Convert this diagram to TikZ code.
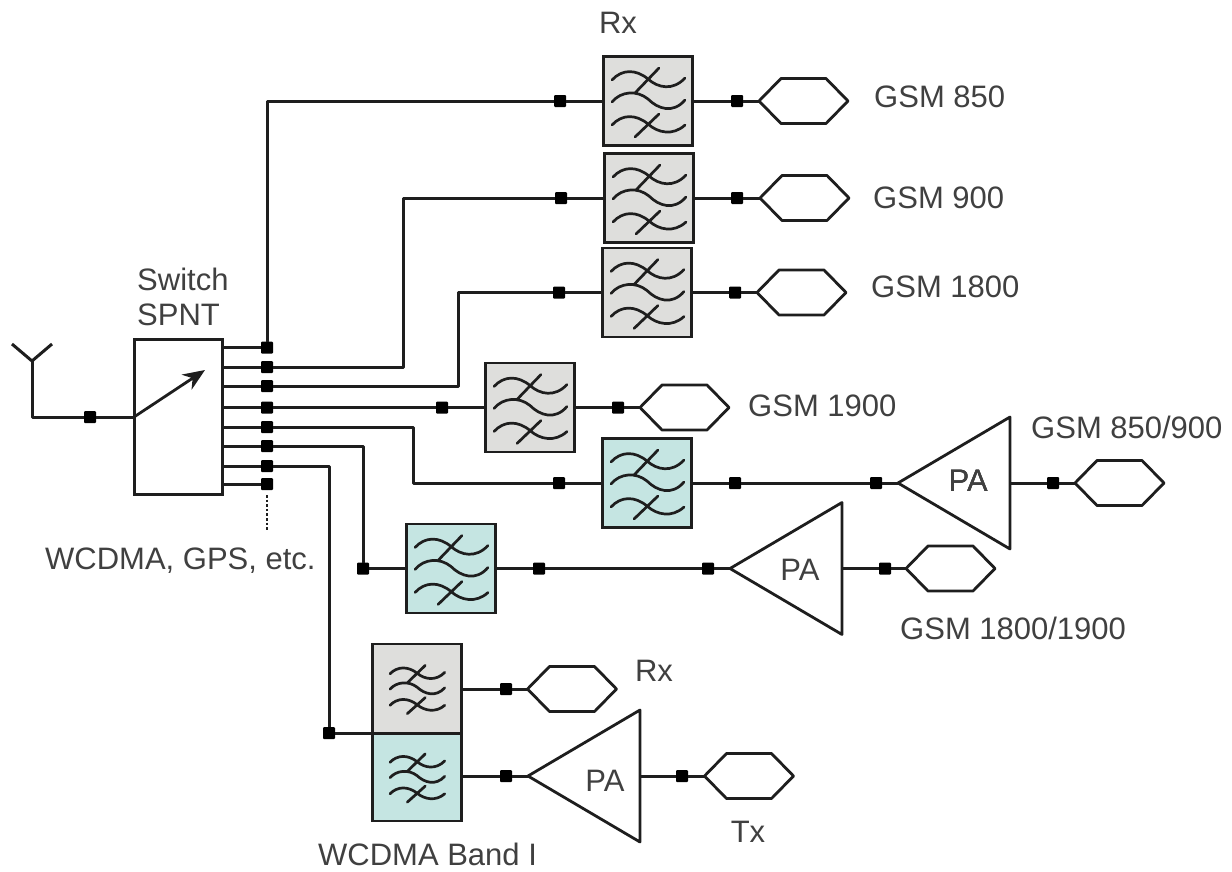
\documentclass[tikz,border=0pt]{standalone}
\usepackage{fontspec}
\setmainfont{Liberation Sans}
\usetikzlibrary{calc,arrows.meta}
\definecolor{ink}{HTML}{1E1E1E}
\definecolor{txt}{HTML}{404040}
\definecolor{greyf}{HTML}{DEDEDC}
\definecolor{tealf}{HTML}{C5E5E2}
\tikzset{
  x=1pt,y=-1pt,
  wire/.style={draw=ink,line width=3pt,line join=round},
  dotn/.style={draw=none,fill=black,minimum size=12pt,inner sep=0pt,outer sep=0pt,rounded corners=1pt},
  filterbox/.style={draw=ink,line width=2.8pt,minimum width=89.5pt,minimum height=89pt,inner sep=0pt,outer sep=0pt},
  lbl/.style={text=txt,font=\fontsize{31}{37}\selectfont,inner sep=0pt,anchor=base west},
  hexbox/.style={minimum width=89pt,minimum height=45pt,inner sep=0pt,outer sep=0pt},
  pabox/.style={minimum width=112pt,minimum height=132pt,inner sep=0pt,outer sep=0pt},
  sq/.style={draw=ink,line width=2.8pt,line join=round},
  filt/.pic={
    \draw[ink,line width=2.7pt,line cap=round]
      (-36,-21) .. controls (-26,-32) and (-12,-32) .. (0,-22) .. controls (10,-13) and (25,-10) .. (37,-23)
      (11,-33) -- (-13,-8)
      (-36,1) .. controls (-27,-10) and (-11,-11) .. (0,-2) .. controls (10,8) and (25,13) .. (37,-1)
      (-36,24) .. controls (-26,13) and (-12,13) .. (0,23) .. controls (10,32) and (25,35) .. (37,24)
      (11,13) -- (-13,36);
  }
}
\newcommand{\hexshape}[1]{\draw[sq,fill=white] (#1.west) -- ($(#1.north west)+(22,0)$) -- ($(#1.north east)+(-22,0)$) -- (#1.east) -- ($(#1.south east)+(-22,0)$) -- ($(#1.south west)+(22,0)$) -- cycle;}
\newcommand{\trishape}[1]{\draw[sq] (#1.west) -- (#1.north east) -- (#1.south east) -- cycle;}
\begin{document}
\begin{tikzpicture}
\useasboundingbox (0,0) rectangle (1232,871);
% switch
\node[draw=ink,line width=3pt,minimum width=88pt,minimum height=155pt,inner sep=0pt,outer sep=0pt] (sw) at (178,416.5) {};
% filters
\node[filterbox,fill=greyf] (F1) at (648,101) {};
\node[filterbox,fill=greyf] (F2) at (649,198) {};
\node[filterbox,fill=greyf] (F3) at (647,292.5) {};
\node[filterbox,fill=greyf] (F4) at (530,407.5) {};
\node[filterbox,fill=tealf] (F5) at (647,483) {};
\node[filterbox,fill=tealf] (F6) at (451,568.5) {};
\node[filterbox,fill=greyf] (F7) at (417,688.5) {};
\node[filterbox,fill=tealf,minimum height=88pt] (F8) at (417,777) {};
\foreach \f in {F1,F2,F3,F4,F5,F6} \pic at (\f) {filt};
\foreach \f in {F7,F8} \pic[xscale=.75,yscale=.7] at (\f) {filt};
% hexagons
\node[hexbox] (H1) at (803.5,101) {};
\node[hexbox] (H2) at (804.5,198) {};
\node[hexbox] (H3) at (801.5,292.5) {};
\node[hexbox] (H4) at (684.5,407.5) {};
\node[hexbox] (H5) at (1119.5,483) {};
\node[hexbox] (H6) at (950.5,568.5) {};
\node[hexbox] (H7) at (572,689) {};
\node[hexbox] (H8) at (749,776) {};
\foreach \h in {H1,H2,H3,H4,H5,H6,H7,H8} \hexshape{\h}
% amplifiers
\node[pabox] (P1) at (954,483) {};
\node[pabox] (P2) at (786,568.5) {};
\node[pabox] (P3) at (584,776) {};
\foreach \p in {P1,P2,P3} \trishape{\p}
\node[lbl,anchor=center] (pa1) at (968.2,481) {PA};
\node[lbl,anchor=center] (pa2) at (800,570) {PA};
\node[lbl,anchor=center] (pa3) at (605,781) {PA};
% switch output dots
\node[dotn] (s1) at (267,347.5) {};
\node[dotn] (s2) at (267,367) {};
\node[dotn] (s3) at (267,386) {};
\node[dotn] (s4) at (267,407.5) {};
\node[dotn] (s5) at (267,427) {};
\node[dotn] (s6) at (267,446) {};
\node[dotn] (s7) at (267,466) {};
\node[dotn] (s8) at (267,484) {};
\foreach \s in {s1,s2,s3,s4,s5,s6,s7,s8} \draw[wire] (sw.east |- \s) -- (\s);
% filter dots
\node[dotn] (a1) at (560,101) {};     \node[dotn] (b1) at (737,101) {};
\node[dotn] (a2) at (561,198) {};     \node[dotn] (b2) at (737,198) {};
\node[dotn] (a3) at (559,292.5) {};   \node[dotn] (b3) at (735,292.5) {};
\node[dotn] (a4) at (442,407.5) {};   \node[dotn] (b4) at (618,407.5) {};
\node[dotn] (a5) at (559,483) {};     \node[dotn] (b5) at (735,483) {};
\node[dotn] (c5) at (876,483) {};     \node[dotn] (d5) at (1053,483) {};
\node[dotn] (a6) at (363,568.5) {};   \node[dotn] (b6) at (539,568.5) {};
\node[dotn] (c6) at (708,568.5) {};   \node[dotn] (d6) at (885,568.5) {};
\node[dotn] (b7) at (506,689) {};     \node[dotn] (b8) at (506,776) {};
\node[dotn] (d8) at (682,776) {};
\node[dotn] (w) at (329,733) {};
\node[dotn] (ant) at (90,417) {};
% wires to filters
\draw[wire] (s1) |- (a1);
\draw[wire] (s2) -| (403,198) -- (a2);
\draw[wire] (s3) -| (458,292.5) -- (a3);
\draw[wire] (s4) -- (a4);
\draw[wire] (s5) -| (413,483) -- (a5);
\draw[wire] (s6) -| (a6);
\draw[wire] (s7) -| (w);
\draw[wire] (w) -- (w -| F7.south west) -- (w -| F7.south east);
\foreach \a/\f in {a1/F1,a2/F2,a3/F3,a4/F4,a5/F5,a6/F6} \draw[wire] (\a) -- (\f);
\foreach \f/\b/\h in {F1/b1/H1,F2/b2/H2,F3/b3/H3,F4/b4/H4} {\draw[wire] (\f.east) -- (\b) -- (\h.west);}
\draw[wire] (F5.east) -- (b5) -- (c5) -- (P1.west);
\draw[wire] (P1.east) -- (d5) -- (H5.west);
\draw[wire] (F6.east) -- (b6) -- (c6) -- (P2.west);
\draw[wire] (P2.east) -- (d6) -- (H6.west);
\draw[wire] (F7.east |- b7) -- (b7) -- (H7.west);
\draw[wire] (F8.east |- b8) -- (b8) -- (P3.west);
\draw[wire] (P3.east |- d8) -- (d8) -- (H8.west);
% antenna and switch arm
\coordinate (anttop) at (32,361);
\coordinate (antl) at (12,344);
\coordinate (antr) at (52,344);
\coordinate (arm) at (134,417);
\coordinate (armend) at (205,370);
\draw[wire] (antl) -- (anttop) -- (antr);
\draw[wire] (anttop) |- (ant) -- (arm);
\draw[ink,line width=2.8pt,-{Stealth[length=22pt,width=18pt]}] (arm) -- (armend);
% dotted continuation
\coordinate (dotend) at (267,530);
\draw[ink,line width=2.6pt,dotted] (s8) ++(0,11) -- (dotend);
% labels
\node[lbl,anchor=center] (rx1) at (618,23) {Rx};
\node[lbl] (t1) at (874,107) {GSM 850};
\node[lbl] (t2) at (873,208) {GSM 900};
\node[lbl] (t3) at (871,297) {GSM 1800};
\node[lbl] (t4) at (748,416) {GSM 1900};
\node[lbl] (t5) at (1031,438) {GSM 850/900};
\node[lbl] (t6) at (900,639) {GSM 1800/1900};
\node[lbl,anchor=center] (rx2) at (654,671) {Rx};
\node[lbl,anchor=center] (tx) at (748,832) {Tx};
\node[lbl] (t7) at (318,865) {WCDMA Band I};
\node[lbl] (t8) at (45,569) {WCDMA, GPS, etc.};
\node[lbl] (t9) at (137,290) {Switch};
\node[lbl] (t10) at (137,325) {SPNT};
\end{tikzpicture}
\end{document}
